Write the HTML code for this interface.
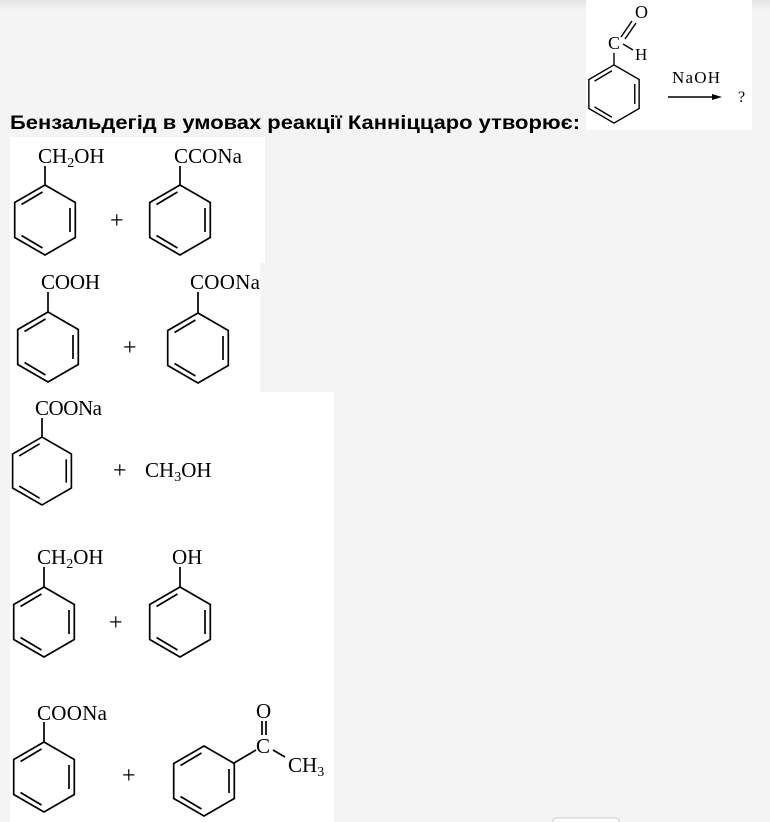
<!DOCTYPE html>
<html><head><meta charset="utf-8"><style>
html,body{margin:0;padding:0;background:#f4f4f4;width:770px;height:822px;overflow:hidden}
svg{display:block}
text{font-family:"Liberation Serif",serif;fill:#000}
</style></head><body>
<svg width="770" height="822" viewBox="0 0 770 822" xmlns="http://www.w3.org/2000/svg">
<defs>
<linearGradient id="sh" x1="0" y1="0" x2="0" y2="1"><stop offset="0" stop-color="#e2e2e2"/><stop offset="1" stop-color="#f4f4f4"/></linearGradient>
<g id="hex" fill="none" stroke="#000" stroke-width="1.7">
<polygon points="0,-35 30.3,-17.5 30.3,17.5 0,35 -30.3,17.5 -30.3,-17.5"/>
<line x1="-23.5" y1="-15.5" x2="-2.5" y2="-28"/>
<line x1="25" y1="-12" x2="25" y2="12"/>
<line x1="-23.5" y1="15.5" x2="-2.5" y2="28"/>
</g>
</defs>
<rect x="0" y="0" width="770" height="10" fill="url(#sh)"/>
<rect x="586" y="0" width="166" height="130" fill="#fff"/>
<g transform="translate(614,94) scale(0.83)"><use href="#hex"/></g>
<g stroke="#000" stroke-width="1.4" fill="none">
<line x1="614" y1="65" x2="614" y2="53"/>
<line x1="621" y1="37" x2="632" y2="21"/>
<line x1="625" y1="39" x2="636" y2="23"/>
<line x1="623" y1="44" x2="633" y2="50"/>
<line x1="668" y1="97" x2="712" y2="97"/>
</g>
<polygon points="712,94 722,97 712,100" fill="#000"/>
<text x="608" y="49" font-size="18">C</text>
<text x="635" y="18" font-size="18">O</text>
<text x="635" y="60" font-size="17">H</text>
<text x="672" y="83" font-size="17" textLength="48">NaOH</text>
<text x="738" y="102" font-size="16">?</text>
<text x="10" y="129" font-weight="bold" font-size="19" textLength="570" lengthAdjust="spacingAndGlyphs" style="font-family:'Liberation Sans',sans-serif">Бензальдегід в умовах реакції Канніццаро утворює:</text>
<rect x="10" y="137" width="255" height="126" fill="#fff"/>
<rect x="10" y="263" width="250" height="129" fill="#fff"/>
<rect x="10" y="392" width="324" height="430" fill="#fff"/>
<g stroke="#000" stroke-width="1.7">
<line x1="45" y1="185" x2="45" y2="166"/>
<line x1="180" y1="185" x2="180" y2="166"/>
<line x1="48" y1="312" x2="48" y2="292"/>
<line x1="198" y1="313" x2="198" y2="292"/>
<line x1="42" y1="437" x2="42" y2="418"/>
<line x1="44" y1="587" x2="44" y2="567"/>
<line x1="180" y1="587" x2="180" y2="567"/>
<line x1="44" y1="742" x2="44" y2="722"/>
<line x1="234" y1="763" x2="256" y2="750"/>
<line x1="262" y1="721" x2="262" y2="735"/>
<line x1="266" y1="721" x2="266" y2="735"/>
<line x1="273" y1="750" x2="285" y2="757"/>
</g>
<g transform="translate(45,220)"><use href="#hex"/></g>
<g transform="translate(180,220)"><use href="#hex"/></g>
<g transform="translate(48,347)"><use href="#hex"/></g>
<g transform="translate(198,348)"><use href="#hex"/></g>
<g transform="translate(42,471) scale(0.97)"><use href="#hex"/></g>
<g transform="translate(44,622)"><use href="#hex"/></g>
<g transform="translate(180,622)"><use href="#hex"/></g>
<g transform="translate(44,777)"><use href="#hex"/></g>
<g transform="translate(204,781)"><use href="#hex"/></g>
<g font-size="21">
<text x="38" y="163">CH<tspan font-size="14" dy="4">2</tspan><tspan dy="-4">OH</tspan></text>
<text x="174" y="163" textLength="68">CCONa</text>
<text x="110" y="228" font-size="24">+</text>
<text x="41" y="289" textLength="59">COOH</text>
<text x="190" y="289" textLength="70">COONa</text>
<text x="123" y="355" font-size="24">+</text>
<text x="35" y="415" textLength="67">COONa</text>
<text x="113" y="478" font-size="24">+</text>
<text x="145" y="477">CH<tspan font-size="14" dy="4">3</tspan><tspan dy="-4">OH</tspan></text>
<text x="37" y="564">CH<tspan font-size="14" dy="4">2</tspan><tspan dy="-4">OH</tspan></text>
<text x="172" y="564">OH</text>
<text x="109" y="630" font-size="24">+</text>
<text x="37" y="720" textLength="70">COONa</text>
<text x="122" y="783" font-size="24">+</text>
<text x="256" y="718">O</text>
<text x="256" y="753">C</text>
<text x="288" y="772">CH<tspan font-size="14" dy="4">3</tspan></text>
</g>
<rect x="553" y="818" width="66" height="8" rx="3" fill="#fff" stroke="#ccc"/>
</svg>
</body></html>
